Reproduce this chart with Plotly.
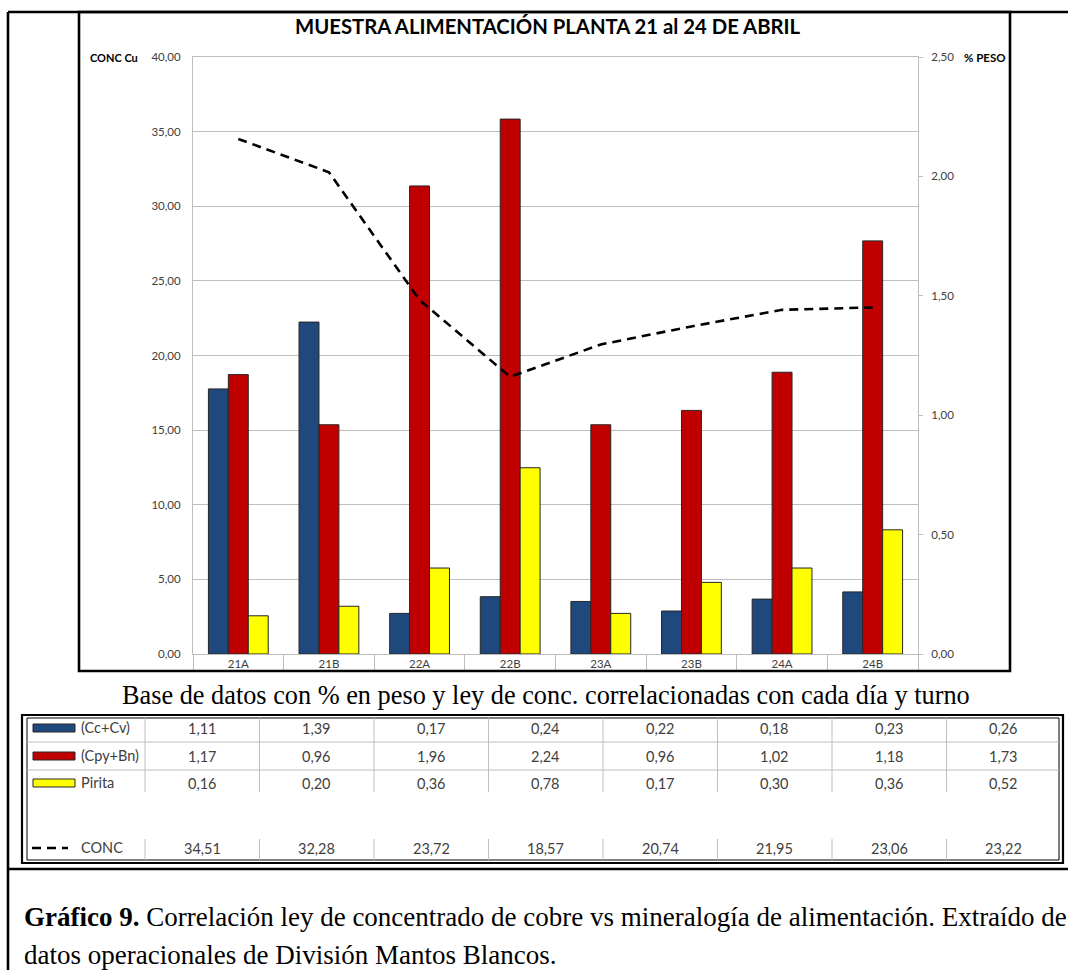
import plotly.graph_objects as go

# ---- data -------------------------------------------------------------
muestras = ["21A", "21B", "22A", "22B", "23A", "23B", "24A", "24B"]
cc_cv = [1.11, 1.39, 0.17, 0.24, 0.22, 0.18, 0.23, 0.26]
cpy_bn = [1.17, 0.96, 1.96, 2.24, 0.96, 1.02, 1.18, 1.73]
pirita = [0.16, 0.20, 0.36, 0.78, 0.17, 0.30, 0.36, 0.52]
conc = [34.51, 32.28, 23.72, 18.57, 20.74, 21.95, 23.06, 23.22]

serie_nombres = ["(Cc+Cv)", "(Cpy+Bn)", "Pirita"]
serie_colores = ["#1F497D", "#C00000", "#FFFF00"]

# ---- page geometry (pixels) -------------------------------------------
W, H = 1068, 970
PLOT_L, PLOT_R, PLOT_T, PLOT_B = 193, 918, 57, 654


def px(x):
    return x / W


def py(y):
    return 1 - y / H


SANS = "Lato, 'Open Sans', sans-serif"
SERIF = "'Liberation Serif', 'Times New Roman', serif"
TXT = "#404040"
GRID = "#BEBEBE"

fig = go.Figure()

# bars on the % PESO axis (right side)
for nombre, valores, color in zip(serie_nombres, [cc_cv, cpy_bn, pirita], serie_colores):
    fig.add_trace(go.Bar(
        x=muestras, y=valores, name=nombre, yaxis="y",
        marker=dict(color=color, line=dict(color="#262626", width=1)),
        showlegend=False,
    ))

# CONC Cu line on the left axis
fig.add_trace(go.Scatter(
    x=muestras, y=conc, name="CONC", yaxis="y2", mode="lines",
    line=dict(color="black", width=2.6, dash="9px,6px"),
    showlegend=False,
))

fig.update_layout(
    template="none",
    width=W, height=H,
    margin=dict(l=0, r=0, t=0, b=0, pad=0, autoexpand=False),
    paper_bgcolor="white", plot_bgcolor="white",
    separators=",.",
    barmode="group", bargap=0.34, bargroupgap=0,
    font=dict(family=SANS, color=TXT, size=11),
    xaxis=dict(
        domain=[px(PLOT_L), px(PLOT_R)],
        type="category", automargin=False,
        showline=True, linecolor=GRID, linewidth=1, mirror=True,
        ticks="outside", tickson="boundaries", ticklen=17, tickcolor=GRID, tickwidth=1,
        tickfont=dict(family=SANS, size=11.5, color=TXT),
        ticklabelstandoff=-1,
        showgrid=False, zeroline=False,
    ),
    yaxis=dict(
        domain=[py(PLOT_B), py(PLOT_T)],
        side="right", range=[0, 2.5], dtick=0.5, tickformat=".2f",
        automargin=False,
        showline=True, linecolor=GRID, linewidth=1,
        ticks="outside", ticklen=4, tickcolor=GRID,
        tickfont=dict(family=SANS, size=11.5, color=TXT),
        ticklabelstandoff=6,
        showgrid=False, zeroline=False,
    ),
    yaxis2=dict(
        overlaying="y", side="left", anchor="x",
        range=[0, 40], dtick=5, tickformat=".2f",
        automargin=False,
        showline=True, linecolor=GRID, linewidth=1,
        ticks="", tickfont=dict(family=SANS, size=11.5, color=TXT),
        ticklabelstandoff=9,
        showgrid=True, gridcolor=GRID, gridwidth=1, zeroline=False,
    ),
)

shapes = []
annotations = []

# outer page frame and chart box
BLK = dict(color="black", width=2.6)
shapes.append(dict(type="line", xref="paper", yref="paper",
                   x0=px(8), x1=px(1068), y0=py(12), y1=py(12), line=BLK))
shapes.append(dict(type="line", xref="paper", yref="paper",
                   x0=px(8), x1=px(8), y0=py(12), y1=py(970), line=BLK))
shapes.append(dict(type="line", xref="paper", yref="paper",
                   x0=px(8), x1=px(1068), y0=py(869), y1=py(869), line=BLK))
shapes.append(dict(type="rect", xref="paper", yref="paper",
                   x0=px(79), x1=px(1010), y0=py(12), y1=py(671), line=BLK))

# title and axis captions
annotations.append(dict(xref="paper", yref="paper", x=px(548), y=py(26),
                        text="<b>MUESTRA ALIMENTACIÓN PLANTA 21 al 24 DE ABRIL</b>",
                        showarrow=False, font=dict(family=SANS, size=20.3, color="black"),
                        xanchor="center", yanchor="middle"))
annotations.append(dict(xref="paper", yref="paper", x=px(88), y=py(57),
                        text="<b>CONC Cu</b>", showarrow=False,
                        font=dict(family=SANS, size=11, color="black"),
                        xanchor="left", yanchor="middle"))
annotations.append(dict(xref="paper", yref="paper", x=px(962), y=py(57),
                        text="<b>% PESO</b>", showarrow=False,
                        font=dict(family=SANS, size=11.5, color="black"),
                        xanchor="left", yanchor="middle"))

# subtitle between chart and table
annotations.append(dict(xref="paper", yref="paper", x=px(546), y=py(695),
                        text="Base de datos con % en peso y ley de conc. correlacionadas con cada día y turno",
                        showarrow=False, font=dict(family=SERIF, size=26.3, color="black"),
                        xanchor="center", yanchor="middle"))

# ---- data table -------------------------------------------------------
T_L, T_R, T_T, T_B = 22, 1063, 715, 863
shapes.append(dict(type="rect", xref="paper", yref="paper",
                   x0=px(T_L), x1=px(T_R), y0=py(T_T), y1=py(T_B),
                   line=dict(color="black", width=2.2)))
shapes.append(dict(type="rect", xref="paper", yref="paper",
                   x0=px(T_L + 5), x1=px(T_R - 4), y0=py(T_T + 3), y1=py(T_B - 3),
                   line=dict(color="black", width=1)))

COL0 = 145
col_w = (T_R - 2 - COL0) / len(muestras)
row_y = [728, 756, 783]
conc_y = 848
row_lines = [742, 770]

for yl in row_lines:
    shapes.append(dict(type="line", xref="paper", yref="paper",
                       x0=px(T_L + 5), x1=px(T_R - 4), y0=py(yl), y1=py(yl),
                       line=dict(color=GRID, width=1)))
for i in range(len(muestras)):
    xd = COL0 + i * col_w
    shapes.append(dict(type="line", xref="paper", yref="paper",
                       x0=px(xd), x1=px(xd), y0=py(T_T + 3), y1=py(792),
                       line=dict(color=GRID, width=1)))
    shapes.append(dict(type="line", xref="paper", yref="paper",
                       x0=px(xd), x1=px(xd), y0=py(839), y1=py(T_B - 3),
                       line=dict(color=GRID, width=1)))


def fmt(v):
    return f"{v:.2f}".replace(".", ",")


TABLE_FONT = dict(family=SANS, size=14.5, color=TXT)
for r, (nombre, valores, color) in enumerate(zip(serie_nombres, [cc_cv, cpy_bn, pirita], serie_colores)):
    yc = row_y[r]
    shapes.append(dict(type="rect", xref="paper", yref="paper",
                       x0=px(33), x1=px(75), y0=py(yc - 4), y1=py(yc + 4),
                       fillcolor=color, line=dict(color="#262626", width=1)))
    annotations.append(dict(xref="paper", yref="paper", x=px(79), y=py(yc - 1),
                            text=nombre, showarrow=False, font=TABLE_FONT,
                            xanchor="left", yanchor="middle"))
    for i, v in enumerate(valores):
        annotations.append(dict(xref="paper", yref="paper",
                                x=px(COL0 + (i + 0.5) * col_w), y=py(yc),
                                text=fmt(v), showarrow=False, font=TABLE_FONT,
                                xanchor="center", yanchor="middle"))

shapes.append(dict(type="line", xref="paper", yref="paper",
                   x0=px(32), x1=px(68), y0=py(conc_y), y1=py(conc_y),
                   line=dict(color="black", width=2.6, dash="9px,6px")))
annotations.append(dict(xref="paper", yref="paper", x=px(79), y=py(conc_y - 1),
                        text="CONC", showarrow=False, font=TABLE_FONT,
                        xanchor="left", yanchor="middle"))
for i, v in enumerate(conc):
    annotations.append(dict(xref="paper", yref="paper",
                            x=px(COL0 + (i + 0.5) * col_w), y=py(conc_y),
                            text=fmt(v), showarrow=False, font=TABLE_FONT,
                            xanchor="center", yanchor="middle"))

# ---- figure caption ---------------------------------------------------
CAP_FONT = dict(family=SERIF, size=27, color="black")
annotations.append(dict(xref="paper", yref="paper", x=px(22), y=py(917),
                        text="<b>Gráfico 9.</b> Correlación ley de concentrado de cobre vs mineralogía de alimentación. Extraído de",
                        showarrow=False, font=CAP_FONT, xanchor="left", yanchor="middle"))
annotations.append(dict(xref="paper", yref="paper", x=px(22), y=py(955),
                        text="datos operacionales de División Mantos Blancos.",
                        showarrow=False, font=CAP_FONT, xanchor="left", yanchor="middle"))

fig.update_layout(shapes=shapes, annotations=annotations)
fig.write_html("out.html")
